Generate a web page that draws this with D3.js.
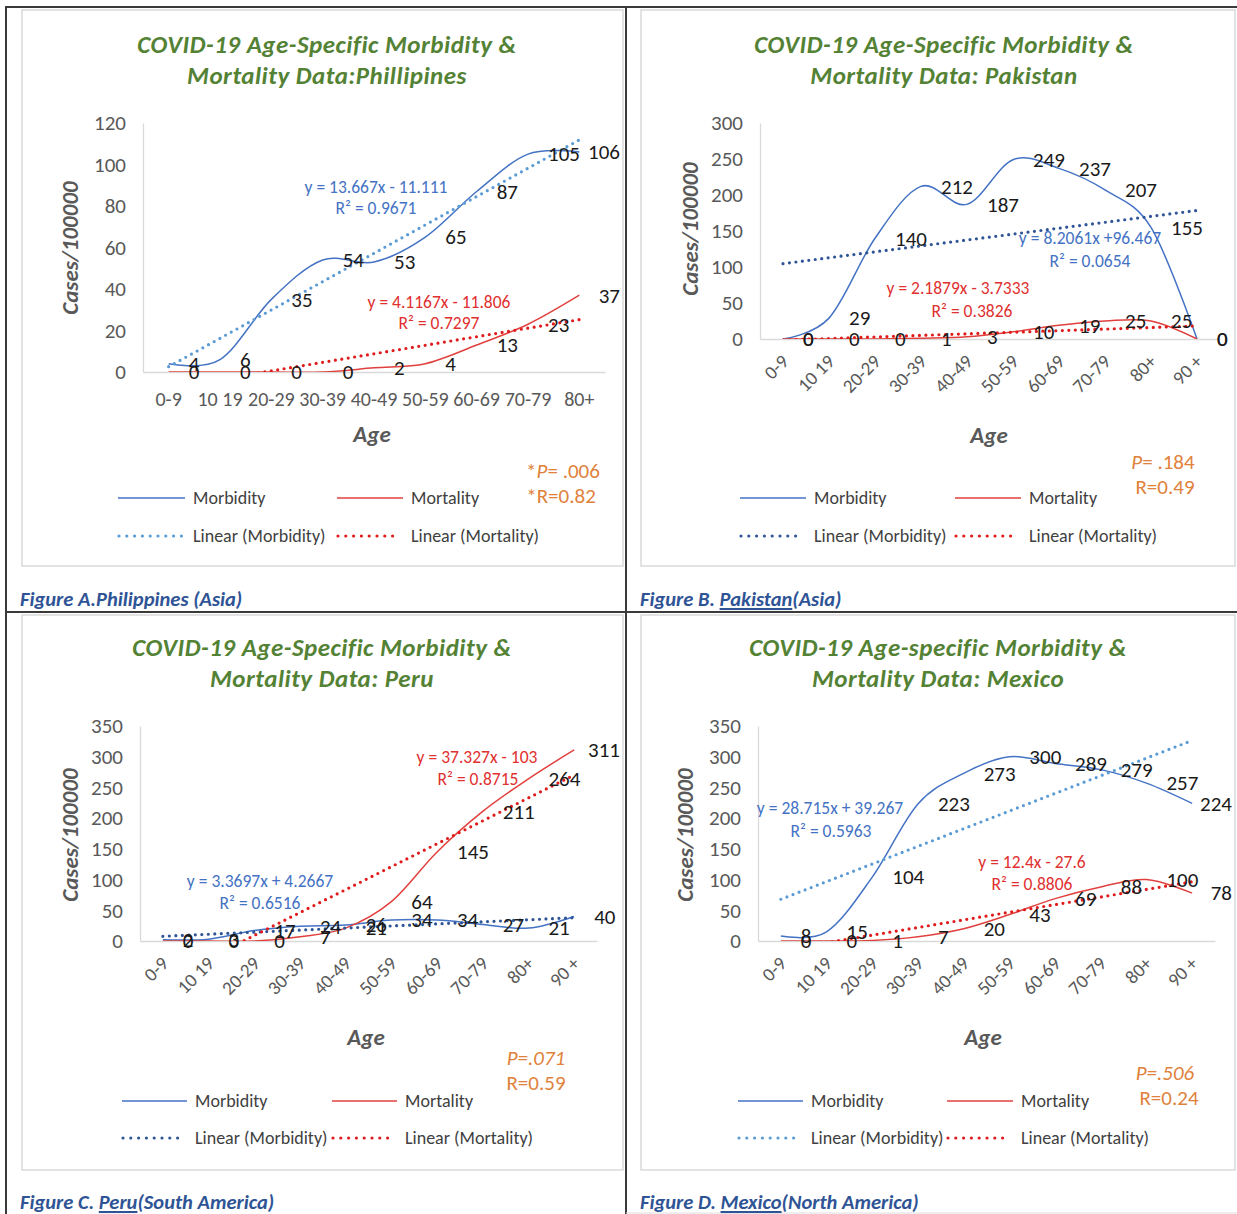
<!DOCTYPE html>
<html>
<head>
<meta charset="utf-8">
<script src="https://cdn.jsdelivr.net/npm/d3@7"></script>
<style>
  body { margin: 0; background: #ffffff; }
  svg { display: block; }
</style>
</head>
<body>
<svg id="fig" width="1237" height="1214"></svg>
<script>
// ---- age groups ----
const agesPhilippines = ["0-9", "10 19", "20-29", "30-39", "40-49", "50-59", "60-69", "70-79", "80+"];
const agesOther = ["0-9", "10 19", "20-29", "30-39", "40-49", "50-59", "60-69", "70-79", "80+", "90 +"];

// ---- cases per 100000 ----
const morbidityPhilippines = [4, 6, 35, 54, 53, 65, 87, 105, 106];
const mortalityPhilippines = [0, 0, 0, 0, 2, 4, 13, 23, 37];
const morbidityPakistan = [0, 29, 140, 212, 187, 249, 237, 207, 155, 0];
const mortalityPakistan = [0, 0, 0, 1, 3, 10, 19, 25, 25, 0];
const morbidityPeru = [2, 3, 17, 24, 26, 34, 34, 27, 21, 40];
const mortalityPeru = [0, 0, 0, 7, 21, 64, 145, 211, 264, 311];
const morbidityMexico = [8, 15, 104, 223, 273, 300, 289, 279, 257, 224];
const mortalityMexico = [0, 0, 1, 7, 20, 43, 69, 88, 100, 78];

// ---- y tick values ----
const ticksPhilippines = [0, 20, 40, 60, 80, 100, 120];
const ticksPakistan = [0, 50, 100, 150, 200, 250, 300];
const ticksAmericas = [0, 50, 100, 150, 200, 250, 300, 350];

// ---- texts ----
const titlesPhilippines = ["COVID-19 Age-Specific  Morbidity &", "Mortality  Data:Phillipines"];
const titlesPakistan = ["COVID-19 Age-Specific Morbidity &", "Mortality  Data: Pakistan"];
const titlesPeru = ["COVID-19 Age-Specific Morbidity &", "Mortality  Data: Peru"];
const titlesMexico = ["COVID-19 Age-specific Morbidity &", "Mortality  Data: Mexico"];

const eqMorbidityPhilippines = ["y = 13.667x - 11.111", "R² = 0.9671"];
const eqMortalityPhilippines = ["y = 4.1167x - 11.806", "R² = 0.7297"];
const eqMorbidityPakistan = ["y = 8.2061x  +96.467", "R² = 0.0654"];
const eqMortalityPakistan = ["y = 2.1879x - 3.7333", "R² = 0.3826"];
const eqMorbidityPeru = ["y = 3.3697x  + 4.2667", "R² = 0.6516"];
const eqMortalityPeru = ["y = 37.327x - 103", "R² = 0.8715"];
const eqMorbidityMexico = ["y = 28.715x  + 39.267", "R² = 0.5963"];
const eqMortalityMexico = ["y = 12.4x - 27.6", "R² = 0.8806"];

const statsPhilippines = [["*", "P", "= .006"], ["*R=0.82"]];
const statsPakistan = [["", "P", "= .184"], ["R=0.49"]];
const statsPeru = [["", "P=.071", ""], ["R=0.59"]];
const statsMexico = [["", "P=.506", ""], ["R=0.24"]];

const captionPhilippines = ["Figure A.Philippines (Asia)", "", ""];
const captionPakistan = ["Figure B. ", "Pakistan", "(Asia)"];
const captionPeru = ["Figure C. ", "Peru", "(South America)"];
const captionMexico = ["Figure D. ", "Mexico", "(North America)"];

// ---- style ----
const FONT = "Carlito, Lato, 'Open Sans', sans-serif";
const GREEN = "#548235";
const AXIS_GRAY = "#D9D9D9";
const TEXT_GRAY = "#595959";
const BLUE = "#4472C4";
const RED_LINE = "#E0413E";
const RED_DOT = "#E01B1B";
const RED_TEXT = "#E0302F";
const LIGHT_BLUE_DOT = "#5B9BD5";
const DARK_BLUE_DOT = "#2F5597";
const ORANGE = "#E0823C";
const CAPTION_BLUE = "#2F5496";

const svg = d3.select("#fig");

// table grid around the four figures
const grid = svg.append("g").attr("stroke", "#3a3a3a").attr("stroke-width", 2);
grid.append("line").attr("x1", 6).attr("x2", 1237).attr("y1", 7).attr("y2", 7);
grid.append("line").attr("x1", 6).attr("x2", 6).attr("y1", 6).attr("y2", 1214);
grid.append("line").attr("x1", 626).attr("x2", 626).attr("y1", 6).attr("y2", 1214);
grid.append("line").attr("x1", 6).attr("x2", 1237).attr("y1", 612).attr("y2", 612);
svg.append("line").attr("x1", 626).attr("x2", 1237).attr("y1", 1213).attr("y2", 1213)
  .attr("stroke", "#dddddd").attr("stroke-width", 1);

// least squares fit against category index 1..n
function linearFit(values) {
  const xs = values.map((_, i) => i + 1);
  const mx = d3.mean(xs), my = d3.mean(values);
  const sxy = d3.sum(xs, (x, i) => (x - mx) * (values[i] - my));
  const sxx = d3.sum(xs, x => (x - mx) * (x - mx));
  const slope = sxy / sxx;
  return { slope, intercept: my - slope * mx };
}

const panels = [
  {
    id: "ph", ages: agesPhilippines, morbidity: morbidityPhilippines, mortality: mortalityPhilippines,
    ticks: ticksPhilippines, titles: titlesPhilippines,
    eqMorb: eqMorbidityPhilippines, eqMort: eqMortalityPhilippines,
    stats: statsPhilippines, statsItalicAll: false, caption: captionPhilippines,
    box: [22, 10, 623, 566], left: 143, right: 605, top: 123, bottom: 372,
    rotate: false, titleX: 327, titleY: [45, 76],
    eqMorbPos: [[376, 187], [376, 208]], eqMortPos: [[439, 302], [439, 323]],
    trendMorbColor: LIGHT_BLUE_DOT,
    statsPos: [[563, 471], [561, 496]], agePos: [372, 434], yTitlePos: [70, 248],
    legend: { rows: [498, 536], cols: [[118, 185], [337, 403]] },
    captionPos: [20, 606]
  },
  {
    id: "pk", ages: agesOther, morbidity: morbidityPakistan, mortality: mortalityPakistan,
    ticks: ticksPakistan, titles: titlesPakistan,
    eqMorb: eqMorbidityPakistan, eqMort: eqMortalityPakistan,
    stats: statsPakistan, statsItalicAll: false, caption: captionPakistan,
    box: [641, 10, 1235, 566], left: 760, right: 1220, top: 123, bottom: 339,
    rotate: true, titleX: 944, titleY: [45, 76],
    eqMorbPos: [[1090, 238], [1090, 261]], eqMortPos: [[958, 288], [972, 311]],
    trendMorbColor: DARK_BLUE_DOT,
    statsPos: [[1163, 462], [1165, 487]], agePos: [989, 435], yTitlePos: [690, 229],
    legend: { rows: [498, 536], cols: [[740, 806], [955, 1021]] },
    captionPos: [640, 606]
  },
  {
    id: "pe", ages: agesOther, morbidity: morbidityPeru, mortality: mortalityPeru,
    ticks: ticksAmericas, titles: titlesPeru,
    eqMorb: eqMorbidityPeru, eqMort: eqMortalityPeru,
    stats: statsPeru, statsItalicAll: true, caption: captionPeru,
    box: [22, 615, 623, 1170], left: 140, right: 597, top: 726, bottom: 941,
    rotate: true, titleX: 322, titleY: [648, 679],
    eqMorbPos: [[260, 881], [260, 903]], eqMortPos: [[477, 757], [478, 779]],
    trendMorbColor: DARK_BLUE_DOT,
    statsPos: [[536, 1058], [536, 1083]], agePos: [366, 1037], yTitlePos: [70, 835],
    legend: { rows: [1101, 1138], cols: [[122, 187], [332, 397]] },
    captionPos: [20, 1209]
  },
  {
    id: "mx", ages: agesOther, morbidity: morbidityMexico, mortality: mortalityMexico,
    ticks: ticksAmericas, titles: titlesMexico,
    eqMorb: eqMorbidityMexico, eqMort: eqMortalityMexico,
    stats: statsMexico, statsItalicAll: true, caption: captionMexico,
    box: [641, 615, 1235, 1170], left: 758, right: 1215, top: 726, bottom: 941,
    rotate: true, titleX: 938, titleY: [648, 679],
    eqMorbPos: [[830, 808], [831, 831]], eqMortPos: [[1032, 862], [1032, 884]],
    trendMorbColor: LIGHT_BLUE_DOT,
    statsPos: [[1165, 1073], [1169, 1098]], agePos: [983, 1037], yTitlePos: [685, 835],
    legend: { rows: [1101, 1138], cols: [[738, 803], [947, 1013]] },
    captionPos: [640, 1209]
  }
];

function drawPanel(p) {
  const g = svg.append("g").attr("font-family", FONT);

  // chart frame
  g.append("rect")
    .attr("x", p.box[0]).attr("y", p.box[1])
    .attr("width", p.box[2] - p.box[0]).attr("height", p.box[3] - p.box[1])
    .attr("fill", "none").attr("stroke", AXIS_GRAY).attr("stroke-width", 1.5);

  // title
  g.selectAll("text.title").data(p.titles).join("text")
    .attr("class", "title")
    .attr("x", p.titleX).attr("y", (d, i) => p.titleY[i] + 8)
    .attr("text-anchor", "middle")
    .attr("font-size", 25).attr("letter-spacing", 0.5)
    .attr("font-weight", "bold").attr("font-style", "italic")
    .attr("fill", GREEN)
    .text(d => d);

  const yMax = p.ticks[p.ticks.length - 1];
  const x = d3.scaleBand().domain(p.ages).range([p.left, p.right]);
  const y = d3.scaleLinear().domain([0, yMax]).range([p.bottom, p.top]);
  const cx = a => x(a) + x.bandwidth() / 2;

  // y axis
  g.append("g")
    .attr("transform", `translate(${p.left},0)`)
    .call(d3.axisLeft(y).tickValues(p.ticks).tickSize(0).tickPadding(17))
    .call(s => s.attr("font-family", FONT).attr("font-size", 21))
    .call(s => s.select(".domain").attr("stroke", AXIS_GRAY).attr("stroke-width", 1.3))
    .call(s => s.selectAll("text").attr("fill", TEXT_GRAY));

  // x axis
  const xa = g.append("g")
    .attr("transform", `translate(0,${p.bottom})`)
    .call(d3.axisBottom(x).tickSize(0).tickPadding(p.rotate ? 0 : 20))
    .call(s => s.attr("font-family", FONT).attr("font-size", p.rotate ? 19 : 20))
    .call(s => s.select(".domain").attr("stroke", AXIS_GRAY).attr("stroke-width", 1.3))
    .call(s => s.selectAll("text").attr("fill", TEXT_GRAY));
  if (p.rotate) {
    xa.selectAll("text")
      .attr("y", 0).attr("dy", "0.35em")
      .attr("text-anchor", "end")
      .attr("transform", "translate(2,19) rotate(-45)");
  }

  // clip for plotted lines
  const clipId = "clip-" + p.id;
  g.append("clipPath").attr("id", clipId)
    .append("rect").attr("x", p.left).attr("y", p.top - 5)
    .attr("width", p.right - p.left + 10).attr("height", p.bottom - p.top + 5);

  const plot = g.append("g").attr("clip-path", `url(#${clipId})`);
  const smooth = d3.line()
    .x((d, i) => cx(p.ages[i]))
    .y(d => y(d))
    .curve(d3.curveCardinal.tension(0));

  plot.append("path").datum(p.morbidity)
    .attr("d", smooth).attr("fill", "none").attr("stroke", BLUE).attr("stroke-width", 1.5);
  plot.append("path").datum(p.mortality)
    .attr("d", smooth).attr("fill", "none").attr("stroke", RED_LINE).attr("stroke-width", 1.5);

  // linear trend lines
  const trend = (values, color) => {
    const fit = linearFit(values);
    const ends = [1, values.length].map(k => [cx(p.ages[k - 1]), y(fit.slope * k + fit.intercept)]);
    plot.append("path")
      .attr("d", d3.line()(ends))
      .attr("fill", "none").attr("stroke", color).attr("stroke-width", 3.2)
      .attr("stroke-linecap", "round").attr("stroke-dasharray", "0 6.5");
  };
  trend(p.morbidity, p.trendMorbColor);
  trend(p.mortality, RED_DOT);

  // data labels, kept inside the chart frame
  const labels = (values) => {
    g.append("g").selectAll("text").data(values).join("text")
      .attr("x", (d, i) => cx(p.ages[i]) + 20)
      .attr("y", d => y(d))
      .attr("dy", "0.35em")
      .attr("font-size", 21).attr("fill", "#1a1a1a")
      .text(d => d)
      .each(function () {
        const w = this.getComputedTextLength();
        const x0 = +this.getAttribute("x");
        const limit = p.box[2] - 3;
        if (x0 + w > limit) this.setAttribute("x", limit - w);
      });
  };
  labels(p.mortality);
  labels(p.morbidity);

  // trend equations
  const eq = (lines, pos, color) => {
    g.append("g").selectAll("text").data(lines).join("text")
      .attr("x", (d, i) => pos[i][0]).attr("y", (d, i) => pos[i][1])
      .attr("dy", "0.35em").attr("text-anchor", "middle")
      .attr("font-size", 17.5).attr("fill", color)
      .text(d => d);
  };
  eq(p.eqMorb, p.eqMorbPos, BLUE);
  eq(p.eqMort, p.eqMortPos, RED_TEXT);

  // axis titles
  g.append("text")
    .attr("x", p.agePos[0]).attr("y", p.agePos[1]).attr("dy", "0.35em")
    .attr("text-anchor", "middle").attr("font-size", 23)
    .attr("font-weight", "bold").attr("font-style", "italic").attr("fill", TEXT_GRAY)
    .text("Age");
  g.append("text")
    .attr("transform", `translate(${p.yTitlePos[0]},${p.yTitlePos[1]}) rotate(-90)`)
    .attr("dy", "0.35em")
    .attr("text-anchor", "middle").attr("font-size", 23)
    .attr("font-weight", "bold").attr("font-style", "italic").attr("fill", TEXT_GRAY)
    .text("Cases/100000");

  // P / R statistics
  const pLine = g.append("text")
    .attr("x", p.statsPos[0][0]).attr("y", p.statsPos[0][1]).attr("dy", "0.35em")
    .attr("text-anchor", "middle").attr("font-size", 21).attr("fill", ORANGE);
  pLine.append("tspan").text(p.stats[0][0]);
  pLine.append("tspan").attr("font-style", "italic").text(p.stats[0][1]);
  pLine.append("tspan").attr("font-style", p.statsItalicAll ? "italic" : "normal").text(p.stats[0][2]);
  g.append("text")
    .attr("x", p.statsPos[1][0]).attr("y", p.statsPos[1][1]).attr("dy", "0.35em")
    .attr("text-anchor", "middle").attr("font-size", 21).attr("fill", ORANGE)
    .text(p.stats[1][0]);

  // legend
  const L = p.legend;
  const legendItems = [
    { row: 0, col: 0, color: BLUE, dotted: false, label: "Morbidity" },
    { row: 0, col: 1, color: RED_LINE, dotted: false, label: "Mortality" },
    { row: 1, col: 0, color: p.trendMorbColor, dotted: true, label: "Linear (Morbidity)" },
    { row: 1, col: 1, color: RED_DOT, dotted: true, label: "Linear (Mortality)" }
  ];
  legendItems.forEach(it => {
    const [x0, x1] = L.cols[it.col];
    const yy = L.rows[it.row];
    const ln = g.append("line")
      .attr("x1", x0 + (it.dotted ? 1 : 0)).attr("x2", x1 - (it.dotted ? 3 : 0))
      .attr("y1", yy).attr("y2", yy)
      .attr("stroke", it.color);
    if (it.dotted) {
      ln.attr("stroke-width", 3.2).attr("stroke-linecap", "round").attr("stroke-dasharray", "0 7.8");
    } else {
      ln.attr("stroke-width", 1.5);
    }
    g.append("text")
      .attr("x", x1 + 8).attr("y", yy).attr("dy", "0.35em")
      .attr("font-size", 18).attr("fill", "#404040")
      .text(it.label);
  });

  // caption below the frame
  const cap = g.append("text")
    .attr("x", p.captionPos[0]).attr("y", p.captionPos[1])
    .attr("font-size", 20.5).attr("font-weight", "bold").attr("font-style", "italic")
    .attr("fill", CAPTION_BLUE);
  cap.append("tspan").text(p.caption[0]);
  if (p.caption[1]) cap.append("tspan").style("text-decoration", "underline").text(p.caption[1]);
  if (p.caption[2]) cap.append("tspan").text(p.caption[2]);
}

panels.forEach(drawPanel);
</script>
</body>
</html>
